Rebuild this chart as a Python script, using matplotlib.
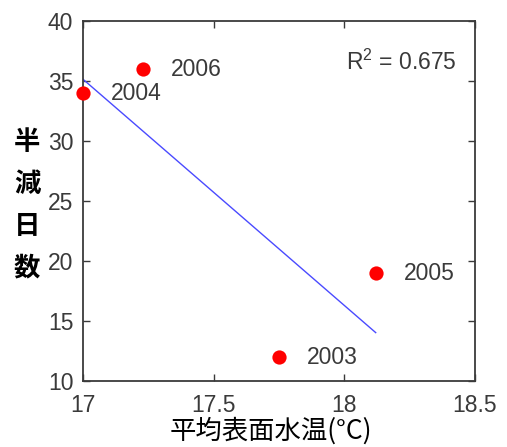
import numpy as np
import matplotlib
matplotlib.use("Agg")
import matplotlib.pyplot as plt

# data
years = ["2003", "2004", "2005", "2006"]
temp = [17.75, 17.0, 18.12, 17.23]
days = [12.0, 34.0, 19.0, 36.0]
r2_text = "R$^2$ = 0.675"
xticks = [17, 17.5, 18, 18.5]
xticklabels = ["17", "17.5", "18", "18.5"]
yticks = [10, 15, 20, 25, 30, 35, 40]
xlabel = "平均表面水温(°C)"
ylabel = "半減日数"

plt.rcParams['font.family'] = ['Liberation Sans', 'DejaVu Sans']
plt.rcParams['mathtext.fontset'] = 'custom'
plt.rcParams['mathtext.rm'] = 'Liberation Sans'
gray = '#3a3a3a'
fs = 16.5

fig = plt.figure(figsize=(5.07, 4.47), dpi=100)
ax = fig.add_axes([83/507, 1-381/447, 392/507, 360/447])

# linear fit through the points
k, b = np.polyfit(temp, days, 1)
xx = np.array([min(temp), max(temp)])
ax.plot(xx, k*xx + b, color='#4a4aff', lw=1.0)

ax.scatter(temp, days, s=105, color='#ff0000', zorder=3, clip_on=False, linewidths=0)
for t, d, yr in zip(temp, days, years):
    ax.annotate(yr, (t, d), xytext=(28, 0), textcoords='offset pixels',
                va='center', ha='left', fontsize=fs, color=gray)

fig.text(457/507, 1-62/447, r2_text, ha='right', va='center',
         fontsize=fs, color=gray)

ax.set_xlim(17, 18.5)
ax.set_ylim(10, 40)
ax.set_xticks(xticks)
ax.set_xticklabels(xticklabels)
ax.set_yticks(yticks)
ax.tick_params(direction='in', top=True, right=True, length=5, width=1,
               colors=gray, labelsize=fs)
ax.tick_params(axis='x', pad=9)
ax.tick_params(axis='y', pad=7)
for s in ax.spines.values():
    s.set_color(gray)
    s.set_linewidth(1.3)

cjk = ['Noto Sans CJK JP', 'DejaVu Sans']
fig.text(271/507, 2/447, xlabel, ha='center', va='bottom', fontsize=19,
         family=cjk, color='black')
for i, ch in enumerate(ylabel):
    fig.text(27/507, 1-(142 + 42*i)/447, ch, ha='center', va='center', fontsize=19,
             family=cjk, weight='bold', color='black')

fig.savefig("out.png", dpi=100)
